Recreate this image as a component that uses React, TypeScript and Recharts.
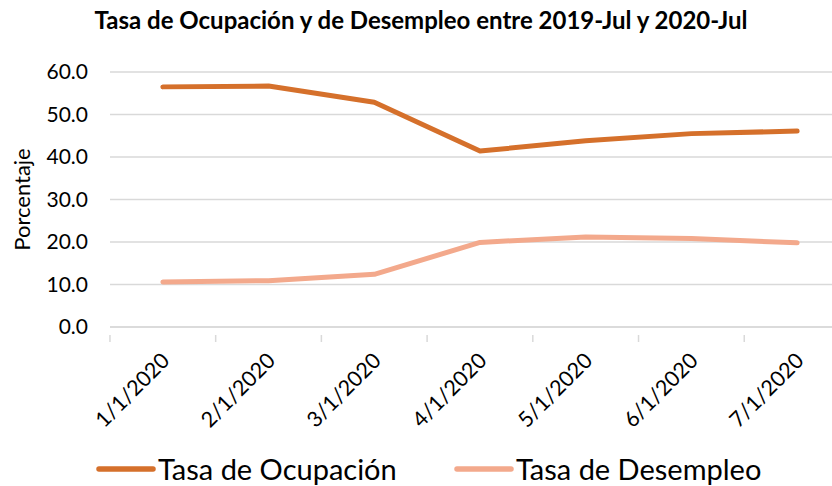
import { LineChart, Line, XAxis, YAxis, CartesianGrid } from "recharts"

const months = ["1/1/2020", "2/1/2020", "3/1/2020", "4/1/2020", "5/1/2020", "6/1/2020", "7/1/2020"]
const ocupacion = [56.5, 56.7, 52.9, 41.4, 43.8, 45.5, 46.1]
const desempleo = [10.6, 10.9, 12.4, 19.9, 21.2, 20.8, 19.8]
const yTicks = [0, 10, 20, 30, 40, 50, 60]

const data = months.map((m, i) => ({
  month: m,
  ocupacion: ocupacion[i],
  desempleo: desempleo[i],
}))

const FONT = "Lato, 'Open Sans', sans-serif"
const ORANGE = "#D5702B"
const PEACH = "#F3A98C"
const HALF_BAND = 52.9

function XTick({ x, y, payload }: any) {
  const ax = x + 8
  const ay = y + 27
  return (
    <g>
      <line x1={x - HALF_BAND} x2={x - HALF_BAND} y1={y} y2={y + 7} stroke="#d9d9d9" strokeWidth={1.5} />
      <text x={ax} y={ay} textAnchor="end" fontSize={21.5} fill="#000" fontFamily={FONT} transform={`rotate(-45, ${ax}, ${ay})`}>
        {payload.value}
      </text>
    </g>
  )
}

function LegendBox() {
  const items = [
    { label: "Tasa de Ocupación", color: ORANGE, left: 96 },
    { label: "Tasa de Desempleo", color: PEACH, left: 454 },
  ]
  return (
    <>
      {items.map((it) => (
        <div
          key={it.label}
          style={{ position: "absolute", left: it.left, top: 451, display: "flex", alignItems: "center", fontFamily: FONT, fontSize: 29, lineHeight: "35px" }}
        >
          <svg width={60} height={10}>
            <line x1={3} x2={57} y1={5} y2={5} stroke={it.color} strokeWidth={5.5} strokeLinecap="round" />
          </svg>
          <span style={{ marginLeft: 2 }}>{it.label}</span>
        </div>
      ))}
    </>
  )
}

export default function App() {
  return (
    <div style={{ position: "absolute", left: 0, top: 0, width: 832, height: 486, overflow: "hidden", background: "#fff" }}>
      <div style={{ position: "absolute", left: 0, top: 5, width: 842, textAlign: "center", fontFamily: FONT, fontWeight: 700, fontSize: 24 }}>
        Tasa de Ocupación y de Desempleo entre 2019-Jul y 2020-Jul
      </div>
      <LineChart width={850} height={486} data={data} margin={{ top: 72, right: 0, bottom: 59, left: 0 }}>
        <CartesianGrid vertical={false} stroke="#d9d9d9" strokeWidth={1.5} />
        <XAxis
          dataKey="month"
          scale="band"
          axisLine={{ stroke: "#d9d9d9", strokeWidth: 1.5 }}
          tickLine={false}
          tick={<XTick />}
          height={100}
          interval={0}
        />
        <YAxis
          domain={[0, 60]}
          ticks={yTicks}
          tickFormatter={(v: number) => v.toFixed(1)}
          axisLine={false}
          tickLine={false}
          width={110}
          tick={{ fontSize: 21, fill: "#000", fontFamily: FONT }}
          tickMargin={16}
          label={{ value: "Porcentaje", angle: -90, position: "insideLeft", offset: 22, style: { fontSize: 22, fill: "#000", fontFamily: FONT, textAnchor: "middle" } }}
        />
        <Line type="linear" dataKey="ocupacion" name="Tasa de Ocupación" stroke={ORANGE} strokeWidth={5} dot={false} strokeLinecap="round" strokeLinejoin="round" isAnimationActive={false} />
        <Line type="linear" dataKey="desempleo" name="Tasa de Desempleo" stroke={PEACH} strokeWidth={5} dot={false} strokeLinecap="round" strokeLinejoin="round" isAnimationActive={false} />
      </LineChart>
      <LegendBox />
    </div>
  )
}
